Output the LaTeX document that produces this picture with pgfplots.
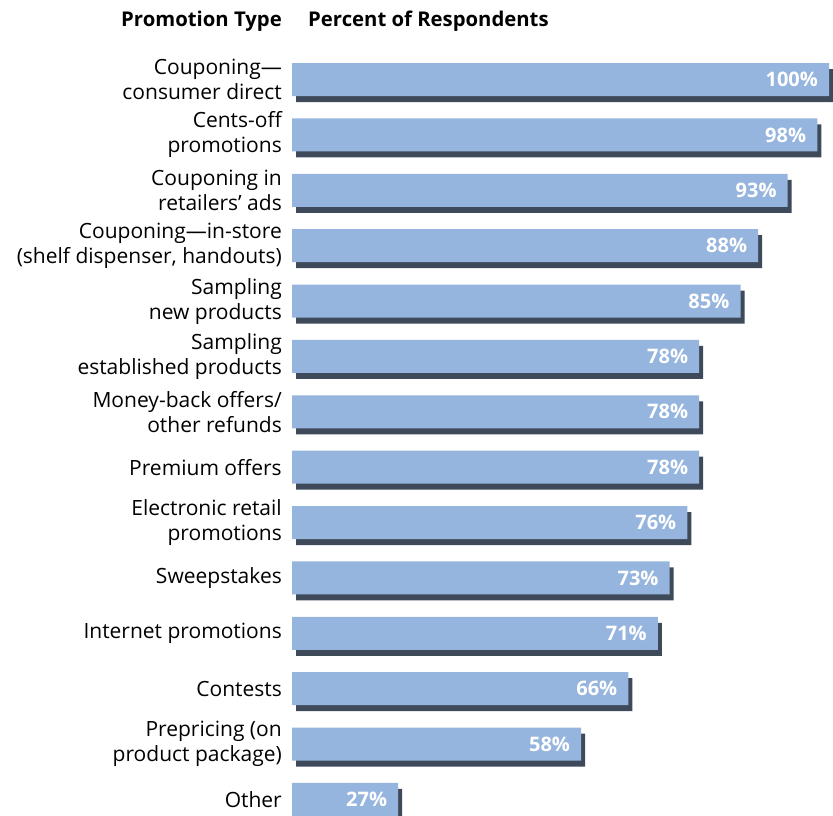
\documentclass[border=0pt]{standalone}
\usepackage{fontspec}
\setmainfont{Open Sans}
\usepackage{pgfplots}
\pgfplotsset{compat=1.18}
\definecolor{barblue}{RGB}{150,181,222}
\definecolor{shadowc}{RGB}{62,74,90}
\begin{document}
\begin{tikzpicture}
\begin{axis}[
  at={(292pt,778pt)}, anchor=north west,
  scale only axis, width=545.9pt, height=803pt,
  xmin=9, xmax=101.5, ymin=-0.75, ymax=13.75, y dir=reverse,
  xbar, bar width=33pt,
  axis x line=none, axis y line*=left,
  y axis line style={draw=none},
  major tick length=0pt,
  ytick={0,...,13},
  yticklabels={{Couponing---\\consumer direct},{Cents-off\\promotions},{Couponing in\\retailers’ ads},{Couponing---in-store\\(shelf dispenser, handouts)},{Sampling\\new products},{Sampling\\established products},{Money-back offers/\\other refunds},{Premium offers},{Electronic retail\\promotions},{Sweepstakes},{Internet promotions},{Contests},{Prepricing (on\\product package)},{Other}},
  yticklabel style={font=\fontsize{21}{25}\selectfont, align=right, inner sep=0pt, xshift=-10pt},
  /pgf/number format/assume math mode=true,
  nodes near coords={\pgfmathprintnumber{\pgfplotspointmeta}\%},
  every node near coord/.append style={anchor=east, xshift=-11pt, text=white, font=\bfseries\fontsize{20}{24}\selectfont, inner sep=0pt},
  clip=true,
]
\addplot[fill=barblue, draw=none,
  preaction={fill=shadowc, transform canvas={xshift=4pt,yshift=-6pt}}]
  coordinates {(100,0) (98,1) (93,2) (88,3) (85,4) (78,5) (78,6) (78,7) (76,8) (73,9) (71,10) (66,11) (58,12) (27,13)};
\end{axis}
\node[anchor=base east, inner sep=0pt, font=\bfseries\fontsize{20.3}{23}\selectfont] at (282pt,789pt) {Promotion Type};
\node[anchor=base west, inner sep=0pt, font=\bfseries\fontsize{20.3}{23}\selectfont] at (308pt,789pt) {Percent of Respondents};
\pgfresetboundingbox
\useasboundingbox (0,0) rectangle (833pt,816pt);
\end{tikzpicture}
\end{document}
